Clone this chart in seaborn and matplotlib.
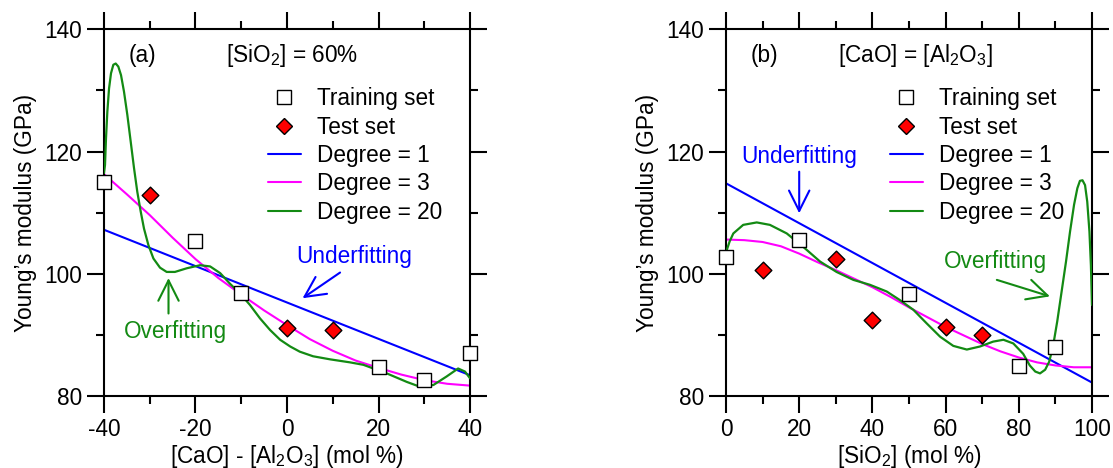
import numpy as np
import pandas as pd
import matplotlib
matplotlib.use("Agg")
import matplotlib.pyplot as plt
import seaborn as sns
from matplotlib.ticker import MultipleLocator
from matplotlib.lines import Line2D

# ---------------- data ----------------
# Panel (a): [SiO2] = 60 %
a_train_x = [-40, -20, -10, 20, 30, 40]
a_train_y = [115.0, 105.3, 96.9, 84.8, 82.6, 87.0]
a_test_x = [-30, 0, 10]
a_test_y = [112.9, 91.2, 90.8]
a_deg1_x = [-40, 40]
a_deg1_y = [107.2, 83.4]
a_deg3_x = [-40, -35, -30, -25, -20, -15, -10, -5, 0, 5, 10, 15, 20, 25, 30, 35, 40]
a_deg3_y = [116.3, 113.0, 109.6, 105.9, 102.4, 99.3, 96.6, 94.0, 91.6, 89.3,
            87.4, 85.8, 84.6, 83.5, 82.6, 82.0, 81.7]
a_deg20_x = [-40, -39.78, -39.56, -39.27, -38.9, -38.47, -37.96, -37.44, -36.87, -36.28,
             -35.63, -34.9, -34.16, -33.44, -32.72, -31.98, -31.26, -30.3, -29.2, -27.76,
             -26.3, -24.5, -21.9, -19.0, -16.8, -14.6, -12.5, -10.3, -8.1, -5.9,
             -3.7, -1.5, 0.7, 2.8, 5.7, 9.4, 13.8, 16.7, 21.8, 26.2,
             29.1, 32.0, 34.9, 37.4, 38.9, 40]
a_deg20_y = [116.5, 117.8, 122.2, 126.5, 130.3, 132.8, 134.2, 134.4, 133.9, 132.5,
             129.8, 126.0, 121.6, 117.3, 113.4, 110.2, 107.4, 104.7, 102.5, 101.0,
             100.3, 100.3, 100.9, 101.4, 101.2, 100.1, 98.4, 96.8, 94.9, 92.7,
             90.8, 89.2, 88.1, 87.25, 86.5, 86.0, 85.5, 85.1, 83.7, 82.3,
             81.5, 81.8, 83.2, 84.5, 84.0, 82.9]

# Panel (b): [CaO] = [Al2O3]
b_train_x = [0, 20, 50, 80, 90]
b_train_y = [102.7, 105.6, 96.7, 84.9, 88.0]
b_test_x = [10, 30, 40, 60, 70]
b_test_y = [100.6, 102.4, 92.4, 91.3, 89.9]
b_deg1_x = [0, 100]
b_deg1_y = [114.8, 82.2]
b_deg3_x = [0, 5, 10, 15, 20, 25, 30, 35, 40, 45, 50, 55, 60, 65, 70, 75, 80, 85, 90, 95, 100]
b_deg3_y = [105.6, 105.5, 105.2, 104.5, 103.3, 101.9, 100.6, 99.2, 97.8, 96.2, 94.5,
            92.9, 91.3, 89.9, 88.5, 87.3, 86.3, 85.5, 85.0, 84.7, 84.7]
b_deg20_x = [0, 1.0, 2.0, 4.7, 8.4, 12.0, 16.6, 21.1, 25.7, 30.2, 34.8, 39.3, 43.9,
             47.5, 51.2, 54.8, 58.5, 62.1, 65.8, 69.4, 73.0, 75.8, 78.5, 81.2, 83.0,
             84.5, 85.8, 87.2, 88.3, 89.4, 90.5, 91.7, 92.9, 94.0, 95.1, 96.0, 96.7,
             97.4, 98.1, 98.7, 99.3, 99.7, 100]
b_deg20_y = [103.5, 105.3, 106.6, 108.0, 108.4, 108.0, 106.6, 104.4, 102.0, 100.3, 99.0,
             98.2, 97.1, 95.7, 94.1, 91.9, 89.7, 88.2, 87.6, 88.1, 88.9, 89.2, 88.6,
             86.9, 85.0, 84.0, 83.7, 84.3, 85.6, 88.3, 92.2, 97.1, 102.0, 106.9, 111.3,
             114.0, 115.2, 115.3, 114.5, 111.8, 106.9, 101.4, 94.9]

legend_labels = ["Training set", "Test set", "Degree = 1", "Degree = 3", "Degree = 20"]
y_ticks = [80, 100, 120, 140]

# ---------------- style ----------------
sns.set_style("ticks")
FS = 16.3
plt.rcParams.update({
    "font.family": ["Liberation Sans", "DejaVu Sans"],
    "mathtext.default": "regular",
    "axes.unicode_minus": False,
    "font.size": FS,
    "axes.linewidth": 1.5,
    "axes.edgecolor": "black",
    "xtick.color": "black",
    "ytick.color": "black",
    "text.color": "black",
    "axes.labelcolor": "black",
})

BLUE = "#0000ff"
MAGENTA = "#ff00ff"
GREEN = "#138a13"

fig = plt.figure(figsize=(11.13, 4.68), dpi=100)
W, H = 1113, 468
axA = fig.add_axes([104 / W, 72 / H, 366 / W, 366.7 / H])
axB = fig.add_axes([726 / W, 72 / H, 366 / W, 366.7 / H])


def draw_panel(ax, tx, ty, sx, sy, d1x, d1y, d3x, d3y, d20x, d20y):
    sns.lineplot(x=d1x, y=d1y, ax=ax, color=BLUE, lw=1.5, estimator=None, zorder=2)
    sns.lineplot(x=d3x, y=d3y, ax=ax, color=MAGENTA, lw=1.5, estimator=None, zorder=2)
    sns.lineplot(x=d20x, y=d20y, ax=ax, color=GREEN, lw=1.6, estimator=None, zorder=3)
    sns.scatterplot(x=tx, y=ty, ax=ax, marker="s", s=105, facecolor="white",
                    edgecolor="black", linewidth=1.0, zorder=5, clip_on=False)
    sns.scatterplot(x=sx, y=sy, ax=ax, marker="D", s=72, facecolor="#ff0000",
                    edgecolor="black", linewidth=1.0, zorder=5, clip_on=False)
    handles = [
        Line2D([], [], ls="none", marker="s", ms=10, mfc="white", mec="black", mew=1.0),
        Line2D([], [], ls="none", marker="D", ms=8.3, mfc="#ff0000", mec="black", mew=1.0),
        Line2D([], [], color=BLUE, lw=1.5),
        Line2D([], [], color=MAGENTA, lw=1.5),
        Line2D([], [], color=GREEN, lw=1.5),
    ]
    ax.legend(handles, legend_labels, loc="upper left", bbox_to_anchor=(0.448, 0.842),
              frameon=False, borderpad=0, borderaxespad=0, handlelength=1.45,
              handletextpad=0.72, labelspacing=0.235, fontsize=FS)
    ax.set_ylim(80, 140)
    ax.set_yticks(y_ticks)
    ax.yaxis.set_minor_locator(MultipleLocator(10))
    ax.tick_params(which="both", direction="out", top=True, right=True,
                   labeltop=False, labelright=False, width=1.5, labelsize=FS, pad=4)
    ax.tick_params(which="major", length=12)
    ax.tick_params(which="minor", length=6)
    for sp in ax.spines.values():
        sp.set_visible(True)
        sp.set_linewidth(1.5)
    ax.set_ylabel("Young\u2019s modulus (GPa)", fontsize=FS)
    ax.yaxis.set_label_coords(-0.183, 0.5)


# Panel (a)
draw_panel(axA, a_train_x, a_train_y, a_test_x, a_test_y, a_deg1_x, a_deg1_y,
           a_deg3_x, a_deg3_y, a_deg20_x, a_deg20_y)
axA.set_xlim(-40, 40)
axA.set_xticks([-40, -20, 0, 20, 40])
axA.xaxis.set_minor_locator(MultipleLocator(10))
axA.set_xlabel("[CaO] - [Al$_2$O$_3$] (mol %)", fontsize=FS)
axA.xaxis.set_label_coords(0.5, -0.128)
axA.text(0.066, 0.911, "(a)", transform=axA.transAxes, fontsize=FS, ha="left", va="baseline")
axA.text(0.333, 0.911, "[SiO$_2$] = 60%", transform=axA.transAxes, fontsize=FS,
         ha="left", va="baseline")
axA.text(14.6, 102.8, "Underfitting", color=BLUE, fontsize=FS, ha="center", va="center")
axA.annotate("", xy=(3.4, 96.0), xytext=(11.6, 100.2),
             arrowprops=dict(arrowstyle="->,head_length=0.9,head_width=0.45",
                             color=BLUE, lw=1.5, shrinkA=0, shrinkB=0))
axA.text(-24.4, 90.5, "Overfitting", color=GREEN, fontsize=FS, ha="center", va="center")
axA.annotate("", xy=(-25.9, 99.3), xytext=(-25.9, 93.5),
             arrowprops=dict(arrowstyle="->,head_length=0.9,head_width=0.45",
                             color=GREEN, lw=1.5, shrinkA=0, shrinkB=0))

# Panel (b)
draw_panel(axB, b_train_x, b_train_y, b_test_x, b_test_y, b_deg1_x, b_deg1_y,
           b_deg3_x, b_deg3_y, b_deg20_x, b_deg20_y)
axB.set_xlim(0, 100)
axB.set_xticks([0, 20, 40, 60, 80, 100])
axB.xaxis.set_minor_locator(MultipleLocator(10))
axB.set_xlabel("[SiO$_2$] (mol %)", fontsize=FS)
axB.xaxis.set_label_coords(0.5, -0.128)
axB.text(0.0675, 0.911, "(b)", transform=axB.transAxes, fontsize=FS, ha="left", va="baseline")
axB.text(0.307, 0.911, "[CaO] = [Al$_2$O$_3$]", transform=axB.transAxes, fontsize=FS,
         ha="left", va="baseline")
axB.text(20.0, 119.2, "Underfitting", color=BLUE, fontsize=FS, ha="center", va="center")
axB.annotate("", xy=(20.0, 109.9), xytext=(20.0, 116.7),
             arrowprops=dict(arrowstyle="->,head_length=0.9,head_width=0.45",
                             color=BLUE, lw=1.5, shrinkA=0, shrinkB=0))
axB.text(73.5, 102.0, "Overfitting", color=GREEN, fontsize=FS, ha="center", va="center")
axB.annotate("", xy=(88.5, 96.3), xytext=(74.0, 99.0),
             arrowprops=dict(arrowstyle="->,head_length=0.9,head_width=0.45",
                             color=GREEN, lw=1.5, shrinkA=0, shrinkB=0))

fig.savefig("out.png", dpi=100)
